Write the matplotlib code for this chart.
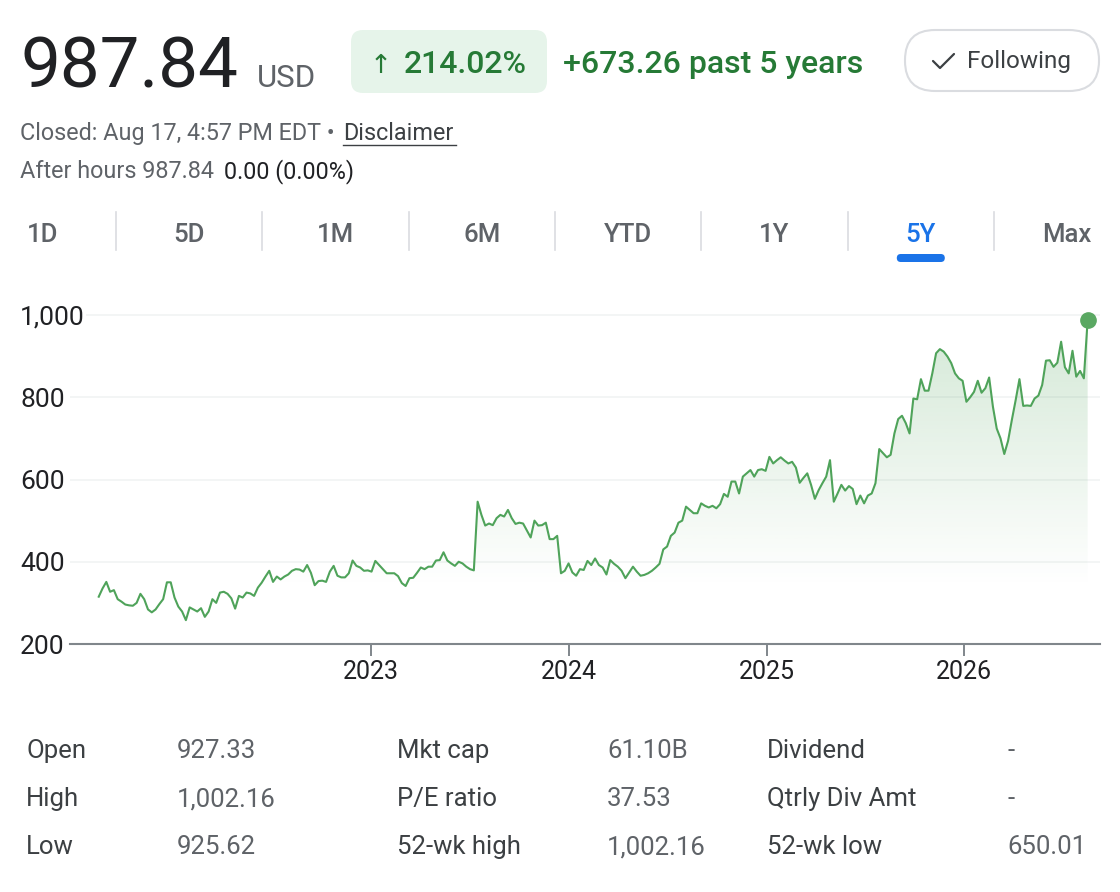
import numpy as np
import pandas as pd
import matplotlib
matplotlib.use("Agg")
import matplotlib.pyplot as plt
import matplotlib.dates as mdates
from matplotlib.patches import FancyBboxPatch, PathPatch
from matplotlib.path import Path
from matplotlib.colors import to_rgb

plt.rcParams['font.family'] = ['Roboto', 'DejaVu Sans']

# Precios semanales (ago 2021 -> ago 2026)
close_1 = [315, 335, 351, 327, 331, 309, 303, 296, 294, 293, 300, 322, 309, 284, 277, 284, 297, 309,
           350, 350, 313, 291, 279, 258, 289, 284, 279, 287, 266, 279, 309, 300, 325, 327, 322, 311,
           286, 317, 313, 325, 323, 317, 337, 349, 364, 378, 351, 364, 357, 364, 369, 378, 382, 381, 376]
close_2 = [392, 373, 343, 353, 354, 351, 376, 390, 366, 362, 362, 372, 403, 390, 386, 378, 379, 376,
           402, 392, 382, 372, 372, 372, 365, 348, 341, 360, 361, 373, 386, 382, 388, 388, 403, 404,
           423, 403, 396, 390, 400, 396, 388, 382, 379, 546, 514, 488, 493, 489, 506, 514, 510, 526]
close_3 = [506, 492, 495, 493, 476, 459, 500, 488, 489, 495, 455, 455, 463, 372, 378, 396, 374, 366,
           382, 380, 402, 392, 408, 392, 386, 369, 404, 395, 388, 378, 360, 374, 388, 376, 366, 368,
           372, 378, 386, 395, 430, 437, 463, 471, 495, 500, 534, 526, 518, 518, 542, 536, 532, 536]
close_4 = [530, 540, 565, 558, 595, 595, 566, 607, 615, 623, 607, 623, 625, 621, 655, 639, 647, 654,
           646, 639, 643, 629, 592, 604, 615, 587, 553, 574, 591, 607, 647, 546, 566, 587, 573, 584,
           577, 540, 561, 542, 561, 566, 591, 674, 664, 654, 660, 712, 747, 755, 737]
close_5 = [712, 797, 795, 844, 816, 816, 858, 907, 917, 911, 899, 883, 858, 846, 840, 789, 800, 813,
           840, 811, 822, 848, 777, 724, 700, 662, 694, 745, 793, 844, 779, 780, 779, 797, 804, 830,
           889, 890, 874, 884, 935, 873, 858, 913, 850, 864, 846, 987.84]
close = close_1 + close_2 + close_3 + close_4 + close_5
fechas = pd.date_range(end="2026-08-17", periods=len(close), freq="7D")

ticks_y = [200, 400, 600, 800, 1000]
ticks_x = ["2023-01-01", "2024-01-01", "2025-01-01", "2026-01-01"]
tabs = ["1D", "5D", "1M", "6M", "YTD", "1Y", "5Y", "Max"]
tab_activo = "5Y"
col_labels = [["Open", "High", "Low"], ["Mkt cap", "P/E ratio", "52-wk high"], ["Dividend", "Qtrly Div Amt", "52-wk low"]]
col_values = [["927.33", "1,002.16", "925.62"], ["61.10B", "37.53", "1,002.16"], ["-", "-", "650.01"]]

verde = '#4fa35a'
verde_txt = '#267a36'
gris = '#5f6368'
oscuro = '#202124'

W, H = 1120, 892
fig = plt.figure(figsize=(W / 100, H / 100), dpi=100)
ov = fig.add_axes([0, 0, 1, 1])
ov.set_xlim(0, W)
ov.set_ylim(H, 0)
ov.axis('off')

# Encabezado
ov.text(20, 87, "987.84", fontsize=51, color=oscuro, va='baseline')
ov.text(257, 87, "USD", fontsize=22.5, color=gris, va='baseline')
ov.add_patch(FancyBboxPatch((351, 30), 196, 63, boxstyle="round,pad=0,rounding_size=12",
                            fc='#e6f4ea', ec='none'))
ov.text(370, 73, "↑", fontsize=19, color=verde_txt, va='baseline', family=['DejaVu Sans'])
ov.text(404, 73, "214.02%", fontsize=23, color=verde_txt, va='baseline', fontweight='medium')
ov.text(563, 73, "+673.26 past 5 years", fontsize=23, color=verde_txt, va='baseline', fontweight='medium')
ov.add_patch(FancyBboxPatch((905, 30), 194, 61, boxstyle="round,pad=0,rounding_size=30",
                            fc='white', ec='#dadce0', lw=1.5))
ov.plot([933, 940, 954], [61, 68, 54], color='#3c4043', lw=1.6, solid_capstyle='round')
ov.text(967, 68, "Following", fontsize=17.5, color='#3c4043', va='baseline')

ov.text(20, 140, "Closed: Aug 17, 4:57 PM EDT •", fontsize=16.8, color=gris, va='baseline')
ov.text(343, 140, "Disclaimer", fontsize=16.8, color='#3c4043', va='baseline')
ov.plot([343, 456], [145, 145], color='#3c4043', lw=1)
ov.text(20, 178, "After hours 987.84", fontsize=16.8, color=gris, va='baseline')
ov.text(224, 178, "0.00 (0.00%)", fontsize=16.8, color=oscuro, va='baseline')

# Pestañas de rango
for i, t in enumerate(tabs):
    cx = 43 + 146.3 * i
    c = '#1a73e8' if t == tab_activo else gris
    ov.text(cx, 242, t, fontsize=18.5, color=c, ha='center', va='baseline', fontweight='medium')
    if i < len(tabs) - 1:
        sx = 116 + 146.3 * i
        ov.plot([sx, sx], [212, 250], color='#dadce0', lw=1.2)
    if t == tab_activo:
        ov.add_patch(FancyBboxPatch((cx - 24, 254), 48, 8, boxstyle="round,pad=0,rounding_size=4",
                                    fc='#1a73e8', ec='none'))

# Gráfico
ax = fig.add_axes([70 / W, (H - 644) / H, 1030 / W, (644 - 290) / H])
ax.set_facecolor('none')
xs = mdates.date2num(fechas)
ax.plot(xs, close, color=verde, lw=1.5, zorder=3)
ax.plot(xs[-1], close[-1], 'o', color='#5aa862', ms=11, zorder=4, clip_on=False)

# Relleno con degradado bajo la curva
verts = [(xs[0], 200)] + list(zip(xs, close)) + [(xs[-1], 200)]
clip = PathPatch(Path(verts), transform=ax.transData, fc='none', ec='none')
ax.add_patch(clip)
yy = np.linspace(200, 1000, 256)
rgba = np.zeros((256, 1, 4))
rgba[..., :3] = to_rgb(verde)
rgba[:, 0, 3] = np.clip(0.25 * (yy - 340) / 660, 0, None)
img = ax.imshow(rgba, extent=[xs[0], xs[-1], 200, 1000], origin='lower', aspect='auto', zorder=2)
img.set_clip_path(clip)

x0 = mdates.date2num(pd.Timestamp("2023-01-01"))
dpp = 365.25 / 197.7
ax.set_xlim(x0 - 301 * dpp, x0 + 729 * dpp)
ax.set_ylim(200, 200 + (644 - 290) * 800 / 329)

ax.set_yticks(ticks_y)
ax.set_yticklabels([f"{v:,}" for v in ticks_y])
ax.grid(axis='y', color='#f1f3f4', lw=1.2, zorder=0)
ax.tick_params(axis='y', length=0, pad=36, labelsize=19, labelcolor=oscuro)
for lab in ax.get_yticklabels():
    lab.set_ha('left')
    lab.set_bbox(dict(fc='white', ec='none', pad=1))

ax.set_xticks(mdates.date2num(pd.to_datetime(ticks_x)))
ax.set_xticklabels([t[:4] for t in ticks_x])
ax.tick_params(axis='x', length=8.5, width=1.4, color='#80868b', labelsize=18, labelcolor=oscuro, pad=3)
for s in ['top', 'right', 'left']:
    ax.spines[s].set_visible(False)
ax.spines['bottom'].set_color('#80868b')
ax.spines['bottom'].set_linewidth(1.5)
ax.set_axisbelow(True)

# Tabla de datos
filas_y = [758, 806, 854]
lab_x = [26, 397, 767]
val_x = [177, 607, 1007]
for c in range(3):
    for r in range(3):
        ov.text(lab_x[c], filas_y[r], col_labels[c][r], fontsize=18.5, color='#3c4043', va='baseline')
        ov.text(val_x[c], filas_y[r], col_values[c][r], fontsize=18.5, color=gris, va='baseline')

fig.savefig("out.png", dpi=100)
